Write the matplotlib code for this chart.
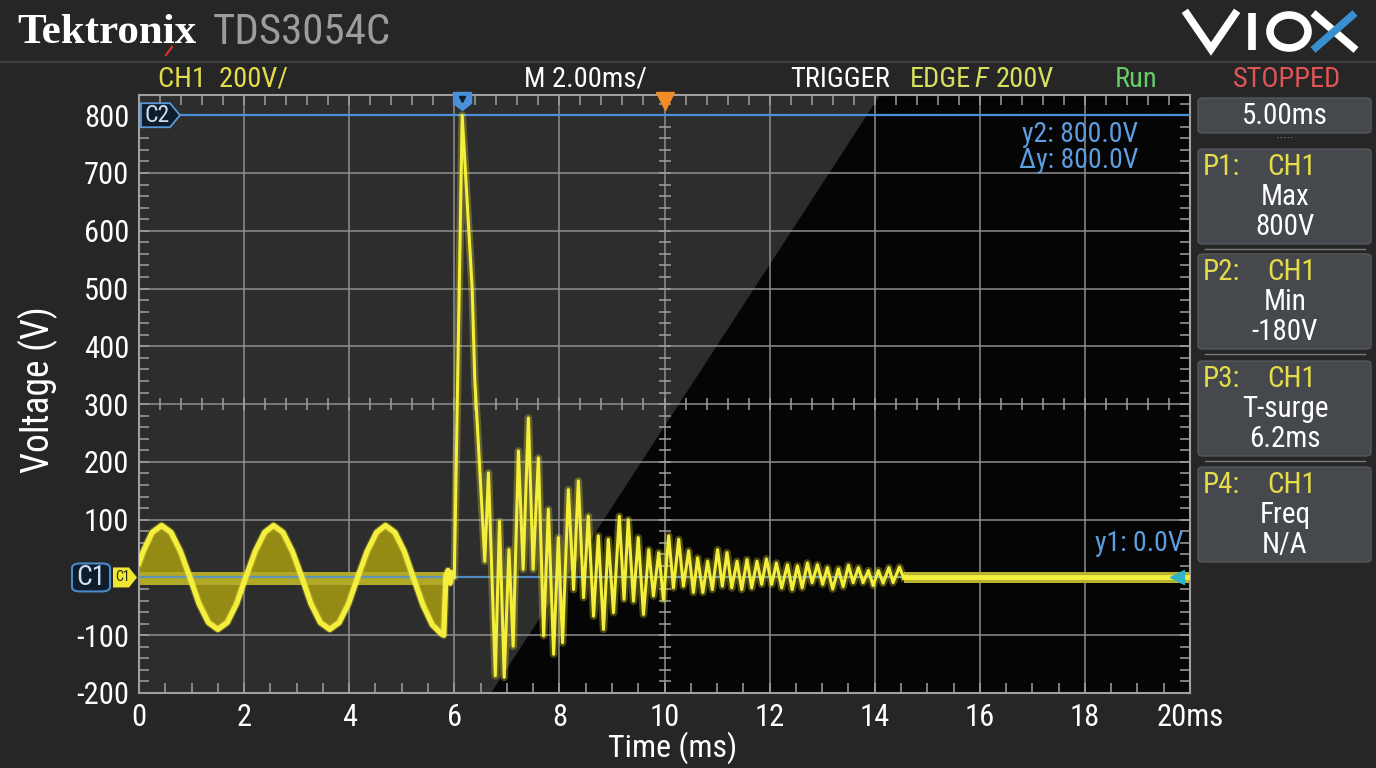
import numpy as np
import matplotlib
matplotlib.use("Agg")
import matplotlib.pyplot as plt
import matplotlib.transforms as mtransforms
from matplotlib import font_manager
from matplotlib.patches import Polygon, FancyBboxPatch, Ellipse
from matplotlib.lines import Line2D

# ---- data (time in ms, voltage in V) ----
# mains sine before the surge
sine_t = [0.00, 0.08, 0.25, 0.43, 0.61, 0.79, 0.97, 1.14, 1.32, 1.50, 1.68, 1.86, 2.03,
          2.21, 2.39, 2.56, 2.74, 2.92, 3.10, 3.27, 3.45, 3.63, 3.81, 3.99, 4.16, 4.34,
          4.52, 4.69, 4.87, 5.05, 5.22, 5.40, 5.58, 5.76, 5.80, 5.84, 5.88, 5.92, 5.96]
sine_v = [25, 45, 78, 90, 78, 45, 0, -45, -78, -90, -78, -45, 0,
          45, 78, 90, 78, 45, 0, -45, -78, -90, -78, -45, 0, 45,
          78, 90, 78, 45, 0, -47, -82, -98, -100, 2, 12, -10, 8]

# surge spike and the damped ringing after it
surge_t = [6.00, 6.15, 6.34, 6.39, 6.52, 6.58, 6.65, 6.78, 6.86, 6.95, 7.04, 7.12, 7.22,
           7.31, 7.41, 7.50, 7.60, 7.70, 7.79, 7.89, 7.98, 8.06, 8.17, 8.27, 8.36, 8.46,
           8.55, 8.65, 8.74, 8.84, 8.93, 9.03, 9.14, 9.23, 9.31, 9.41, 9.50, 9.60, 9.70,
           9.79, 9.89, 9.98, 10.08, 10.17, 10.27, 10.36, 10.46, 10.55, 10.63, 10.73, 10.82,
           10.91, 11.01, 11.10, 11.19, 11.28, 11.38, 11.47, 11.57, 11.66, 11.76, 11.85,
           11.94, 12.04, 12.13, 12.23, 12.34, 12.43, 12.53, 12.62, 12.72, 12.81, 12.91,
           13.01, 13.10, 13.20, 13.31, 13.40, 13.50, 13.59, 13.69, 13.78, 13.88, 13.97,
           14.07, 14.16, 14.27, 14.35, 14.47, 14.55]
surge_v = [0, 800, 500, 342, 129, 28, 181, -170, 97, -173, 48, -119, 219,
           14, 276, 14, 207, -101, 118, -133, 69, -113, 152, -21, 167, -35,
           106, -67, 72, -90, 66, -61, 106, -38, 100, -41, 69, -64, 48,
           -32, 43, -38, 72, -18, 66, -15, 46, -26, 34, -26, 28,
           -21, 48, -15, 43, -18, 28, -21, 31, -18, 28, -12,
           32, -12, 25, -18, 22, -21, 20, -18, 25, -9, 22,
           -12, 17, -20, 15, -16, 21, -9, 17, -9, 12, -14,
           12, -10, 17, -9, 18, 0]

# settled trace after the ringing
tail_t = [14.55, 20.0]
tail_v = [0, 0]
tail_noise = 10

cursor_y1 = 0.0
cursor_y2 = 800.0

x_ticks = [0, 2, 4, 6, 8, 10, 12, 14, 16, 18, 20]
x_labels = ["0", "2", "4", "6", "8", "10", "12", "14", "16", "18", "20ms"]
y_ticks = [-200, -100, 0, 100, 200, 300, 400, 500, 600, 700, 800]
y_labels = ["-200", "-100", "", "100", "200", "300", "400", "500", "600", "700", "800"]

meas_ids = ["P1:", "P2:", "P3:", "P4:"]
meas_names = ["Max", "Min", "T-surge", "Freq"]
meas_values = ["800V", "-180V", "6.2ms", "N/A"]

# ---- fonts ----
names = {f.name for f in font_manager.fontManager.ttflist}
fam = "DejaVu Sans"
for cand in ["Roboto Condensed", "Liberation Sans Narrow", "Roboto"]:
    if cand in names:
        fam = cand
        break
plt.rcParams["font.family"] = [fam, "DejaVu Sans"]
plt.rcParams["axes.unicode_minus"] = False

W, H = 1376, 768
fig = plt.figure(figsize=(W / 100, H / 100), dpi=100, facecolor="#262626")


def fx(x):
    return x / W


def fy(y):
    return 1 - y / H


ax = fig.add_axes([fx(139), fy(693), (1190 - 139) / W, (693 - 95) / H])
ax.set_facecolor("#050505")
ax.set_xlim(0, 20)
ax.set_ylim(-200, 835)

# grey / black split of the screen
ax.add_patch(Polygon([(0, 0), (0.335, 0), (0.705, 1), (0, 1)], closed=True,
                     transform=ax.transAxes, facecolor="#2d2d2d", edgecolor="none", zorder=0))

ax.set_xticks(x_ticks)
ax.set_xticklabels(x_labels)
ax.set_yticks(y_ticks)
ax.set_yticklabels(y_labels)
ax.set_axisbelow(True)
ax.grid(True, color="#8e8e8e", lw=1.1)
ax.tick_params(length=0, labelsize=22, labelcolor="white", pad=7)
for s in ax.spines.values():
    s.set_color("#a0a0a0")
    s.set_linewidth(1.5)

# graticule minor ticks
gcol = "#a0a0a0"
vminor = np.arange(-200, 835, 20)
ax.plot(np.full(len(vminor), 10), vminor, ls="none", marker="_", ms=9, mew=1.1, color=gcol, zorder=1)
ax.plot(np.zeros(len(vminor)), vminor, ls="none", marker=1, ms=7, mew=1.1, color=gcol, clip_on=False)
ax.plot(np.full(len(vminor), 20), vminor, ls="none", marker=0, ms=7, mew=1.1, color=gcol, clip_on=False)
tminor = np.arange(0, 20.01, 0.4)
ax.plot(tminor, np.full(len(tminor), 300), ls="none", marker="|", ms=9, mew=1.1, color=gcol, zorder=1)
ax.plot(tminor, np.full(len(tminor), 835), ls="none", marker=3, ms=7, mew=1.1, color=gcol, clip_on=False)
bminor = np.arange(0, 20.01, 0.5)
ax.plot(bminor, np.full(len(bminor), -200), ls="none", marker=2, ms=7, mew=1.1, color=gcol, clip_on=False)

# persistence fill of the sine and zero band
st = np.array(sine_t)
sv = np.array(sine_v)
ax.fill_between(st[:36], sv[:36], 0, color="#948b14", lw=0, zorder=2)
ax.fill_between([st[0], st[-1]], -13, 9, color="#b0a826", lw=0, zorder=2)
ax.fill_between(tail_t, -tail_noise, tail_noise, color="#bab22e", lw=0, zorder=2)

# cursors
ax.axhline(cursor_y1, color="#4a90d8", lw=1.6, alpha=0.8, zorder=3)
ax.axhline(cursor_y2, xmin=0.039, color="#4a90d8", lw=1.6, zorder=3)

# trace
tt = np.concatenate([st, surge_t])
tv = np.concatenate([sv, surge_v])
ax.plot(tt, tv, color="#e8e030", lw=5.5, alpha=0.3, zorder=4, solid_joinstyle="round")
ax.plot(st, sv, color="#f4ee3c", lw=3.8, zorder=5, solid_joinstyle="round")
ax.plot(surge_t, surge_v, color="#f4ee3c", lw=2.2, zorder=5, solid_joinstyle="round")
ax.plot(tail_t, tail_v, color="#f4ee3c", lw=3.5, zorder=5)

# markers on the screen edges
bt = mtransforms.blended_transform_factory(ax.transData, ax.transAxes)
peak_t = surge_t[int(np.argmax(surge_v))]
tag = [(-1, 1), (1, 1), (1, -0.2), (0, -1), (-1, -0.2), (-1, 1)]
ax.plot([peak_t], [0.99], transform=bt, marker=tag, ms=13, color="#4a90d8", clip_on=False, zorder=6)
ax.plot([peak_t], [0.993], transform=bt, marker="v", ms=4, color="#0c1a2a", clip_on=False, zorder=7)
ax.plot([np.mean(ax.get_xlim())], [0.99], transform=bt, marker="v", ms=13, color="#f28c28",
        clip_on=False, zorder=6)
rt = mtransforms.blended_transform_factory(ax.transAxes, ax.transData)
ax.plot([0.988], [cursor_y1], transform=rt, marker="<", ms=10, color="#2fb5c5", zorder=6)

# cursor readouts
blue = "#5c9ee0"
ax.text(0.9505, 0.934, "y2: %.1fV" % cursor_y2, transform=ax.transAxes, color=blue, size=20,
        ha="right", va="center")
ax.text(0.9505, 0.890, "\u0394y: %.1fV" % (cursor_y2 - cursor_y1), transform=ax.transAxes, color=blue,
        size=20, ha="right", va="center")
ax.text(0.9935, cursor_y1 + 58, "y1: %.1fV" % cursor_y1, transform=rt, color=blue, size=20,
        ha="right", va="center")

# channel tags on the left
ytag2 = ax.transData.transform((0, cursor_y2))[1]
ytag1 = ax.transData.transform((0, cursor_y1))[1]


def px_poly(pts):
    return [(x / W, y / H) for x, y in pts]


fig.add_artist(Polygon(px_poly([(141, ytag2 + 12), (170, ytag2 + 12), (180, ytag2), (170, ytag2 - 12),
                                (141, ytag2 - 12)]), closed=True, transform=fig.transFigure,
                       facecolor="#0f1c2b", edgecolor="#5a9ad8", lw=1.3, zorder=8))
fig.text(fx(157), ytag2 / H, "C2", color="#cfe0f0", size=17, ha="center", va="center", zorder=9)
fig.add_artist(FancyBboxPatch((fx(72), (ytag1 - 14) / H), 38 / W, 28 / H,
                              boxstyle="round,pad=0,rounding_size=0.006", transform=fig.transFigure,
                              facecolor="#0f1c2b", edgecolor="#4a8ac8", lw=1.5))
fig.text(fx(91), ytag1 / H, "C1", color="#cfe0f0", size=20, ha="center", va="center")
fig.add_artist(Polygon(px_poly([(113, ytag1 + 10), (129, ytag1 + 10), (137, ytag1), (129, ytag1 - 10),
                                (113, ytag1 - 10)]), closed=True, transform=fig.transFigure,
                       facecolor="#f0e830", edgecolor="none"))
fig.text(fx(122), ytag1 / H, "C1", color="#2a2a10", size=10, ha="center", va="center")

# axis titles
fig.text(fx(38), fy(390), "Voltage (V)", rotation=90, size=27, color="white", ha="center", va="center")
fig.text(fx(673), fy(748), "Time (ms)", size=23, color="white", ha="center", va="center")

# header
fig.add_artist(Line2D([0, 1], [fy(62), fy(62)], color="#3e3e3e", lw=1.5))
fig.text(fx(17), fy(43), "Tektronix", family="Liberation Serif", weight="bold", size=31,
         color="white", va="baseline")
fig.add_artist(Line2D([fx(166), fx(172)], [fy(55), fy(47)], color="#e03030", lw=1.5))
fig.text(fx(213), fy(44), "TDS3054C", size=31, color="#9c9c9c", va="baseline")

# VIOX logo drawn as strokes
lw_logo = 5.5
fig.add_artist(Line2D([fx(1187), fx(1211), fx(1235)], [fy(14), fy(49), fy(14)], color="white",
                      lw=lw_logo, solid_joinstyle="miter"))
fig.add_artist(Line2D([fx(1252), fx(1252)], [fy(13), fy(50)], color="white", lw=lw_logo,
                      solid_capstyle="butt"))
fig.add_artist(Ellipse((fx(1289), fy(31.5)), 38 / W, 33 / H, transform=fig.transFigure,
                       facecolor="none", edgecolor="white", lw=lw_logo))
fig.add_artist(Line2D([fx(1313), fx(1356)], [fy(13), fy(50)], color="white", lw=lw_logo,
                      solid_capstyle="butt"))
fig.add_artist(Line2D([fx(1313), fx(1355)], [fy(50), fy(13)], color="#3a8fd0", lw=lw_logo,
                      solid_capstyle="butt"))

# status row
fig.text(fx(158), fy(87), "CH1  200V/", size=20.5, color="#e6dc4a", va="baseline")
fig.text(fx(524), fy(87), "M 2.00ms/", size=20.5, color="white", va="baseline")
fig.text(fx(790), fy(87), "TRIGGER", size=20.5, color="white", va="baseline")
fig.text(fx(910), fy(87), "EDGE", size=20.5, color="#d8e060", va="baseline")
fig.text(fx(974), fy(87), "F", size=20.5, color="#d8e060", va="baseline", style="italic")
fig.text(fx(996), fy(87), "200V", size=20.5, color="#d8e060", va="baseline")
fig.text(fx(1115), fy(87), "Run", size=20.5, color="#66cc66", va="baseline")
fig.text(fx(1233), fy(87), "STOPPED", size=20.5, color="#e05555", va="baseline")

# measurement panel
box_face = "#45484d"
fig.add_artist(FancyBboxPatch((fx(1198), fy(133)), 173 / W, 35 / H,
                              boxstyle="round,pad=0,rounding_size=0.004", transform=fig.transFigure,
                              facecolor=box_face, edgecolor="#55585d", lw=1))
fig.text(fx(1285), fy(116), "5.00ms", size=21, color="white", ha="center", va="center")
fig.text(fx(1285), fy(140), "\u00b7\u00b7\u00b7\u00b7\u00b7", size=10, color="#808080", ha="center", va="center")

box_tops = [149, 254, 361, 467]
for i, top in enumerate(box_tops):
    fig.add_artist(FancyBboxPatch((fx(1198), fy(top + 95)), 173 / W, 95 / H,
                                  boxstyle="round,pad=0,rounding_size=0.004", transform=fig.transFigure,
                                  facecolor=box_face, edgecolor="#55585d", lw=1))
    fig.text(fx(1203), fy(top + 18), meas_ids[i], size=21, color="#e6dc4a", va="center")
    fig.text(fx(1292), fy(top + 18), "CH1", size=21, color="#e6dc4a", ha="center", va="center")
    fig.text(fx(1285), fy(top + 48), meas_names[i], size=21, color="white", ha="center", va="center")
    fig.text(fx(1285), fy(top + 78), meas_values[i], size=21, color="white", ha="center", va="center")
    if i < len(box_tops) - 1:
        fig.add_artist(Line2D([fx(1205), fx(1365)], [fy(top + 100), fy(top + 100)], color="#7a7a7a", lw=1))

fig.savefig("out.png", dpi=100, facecolor=fig.get_facecolor())
